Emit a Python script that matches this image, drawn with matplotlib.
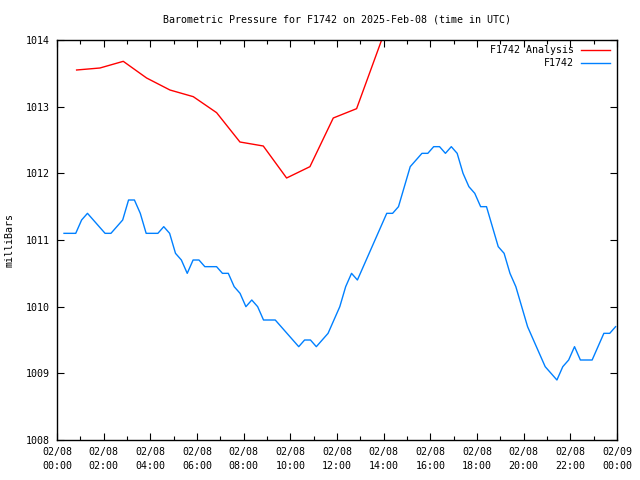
import numpy as np
import matplotlib
matplotlib.use("Agg")
import matplotlib.pyplot as plt
from matplotlib.ticker import MultipleLocator, FixedLocator

# Analysis series (hours since 2025-02-08 00:00 UTC, mbar)
analysis_hours = [0.84, 1.84, 2.84, 3.84, 4.84, 5.84, 6.84, 7.84, 8.84, 9.84,
                  10.84, 11.84, 12.84, 13.84, 14.84]
analysis_mbar = [1013.55, 1013.58, 1013.68, 1013.43, 1013.25, 1013.15, 1012.91,
                 1012.47, 1012.41, 1011.93, 1012.10, 1012.83, 1012.97, 1013.93,
                 1014.90]

# Station observations
obs_start, obs_end = 0.30, 23.94
obs_mbar = [
    1011.1, 1011.1, 1011.1, 1011.3, 1011.4, 1011.3, 1011.2, 1011.1, 1011.1, 1011.2,
    1011.3, 1011.6, 1011.6, 1011.4, 1011.1, 1011.1, 1011.1, 1011.2, 1011.1, 1010.8,
    1010.7, 1010.5, 1010.7, 1010.7, 1010.6, 1010.6, 1010.6, 1010.5, 1010.5, 1010.3,
    1010.2, 1010.0, 1010.1, 1010.0, 1009.8, 1009.8, 1009.8, 1009.7, 1009.6, 1009.5,
    1009.4, 1009.5, 1009.5, 1009.4, 1009.5, 1009.6, 1009.8, 1010.0, 1010.3, 1010.5,
    1010.4, 1010.6, 1010.8, 1011.0, 1011.2, 1011.4, 1011.4, 1011.5, 1011.8, 1012.1,
    1012.2, 1012.3, 1012.3, 1012.4, 1012.4, 1012.3, 1012.4, 1012.3, 1012.0, 1011.8,
    1011.7, 1011.5, 1011.5, 1011.2, 1010.9, 1010.8, 1010.5, 1010.3, 1010.0, 1009.7,
    1009.5, 1009.3, 1009.1, 1009.0, 1008.9, 1009.1, 1009.2, 1009.4, 1009.2, 1009.2,
    1009.2, 1009.4, 1009.6, 1009.6, 1009.7,
]
obs_hours = np.linspace(obs_start, obs_end, len(obs_mbar))

xtick_hours = [0, 2, 4, 6, 8, 10, 12, 14, 16, 18, 20, 22, 24]
xtick_labels = ["02/08\n00:00", "02/08\n02:00", "02/08\n04:00", "02/08\n06:00",
                "02/08\n08:00", "02/08\n10:00", "02/08\n12:00", "02/08\n14:00",
                "02/08\n16:00", "02/08\n18:00", "02/08\n20:00", "02/08\n22:00",
                "02/09\n00:00"]
yticks = [1008, 1009, 1010, 1011, 1012, 1013, 1014]

FONT = "DejaVu Sans Mono"
plt.rcParams["font.family"] = FONT

fig = plt.figure(figsize=(6.4, 4.8), dpi=100)
ax = fig.add_axes([57/640, 40/480, 560/640, 400/480])

red = "#ff0000"
blue = "#0080ff"
ax.plot(analysis_hours, analysis_mbar, color=red, lw=1.0)
ax.plot(obs_hours, obs_mbar, color=blue, lw=1.0)

ax.set_xlim(0, 24)
ax.set_ylim(1008, 1014)
ax.xaxis.set_major_locator(FixedLocator(xtick_hours))
ax.set_xticklabels(xtick_labels)
ax.xaxis.set_minor_locator(MultipleLocator(1))
ax.set_yticks(yticks)
ax.set_yticklabels([str(v) for v in yticks])

ax.tick_params(axis="both", which="both", direction="in", top=True, right=True,
               labelsize=7.2, width=0.8, colors="black")
ax.tick_params(axis="both", which="major", length=5, pad=5)
ax.tick_params(axis="both", which="minor", length=3)
for lab in ax.get_xticklabels():
    lab.set_linespacing(1.45)
for sp in ax.spines.values():
    sp.set_linewidth(1.0)

ax.set_ylabel("milliBars", fontsize=7.2)
ax.yaxis.set_label_coords(-0.075, 0.5)
ax.text(0.5, 1 + 20/400, "Barometric Pressure for F1742 on 2025-Feb-08 (time in UTC)",
        transform=ax.transAxes, ha="center", va="center", fontsize=7.2)

# legend drawn gnuplot-style: right-aligned text followed by line sample
rows = [("F1742 Analysis", red, 0.975), ("F1742", blue, 0.9425)]
for label, col, yy in rows:
    ax.text(0.923, yy, label, transform=ax.transAxes, ha="right", va="center",
            fontsize=7.2)
    ax.plot([0.936, 0.987], [yy, yy], transform=ax.transAxes, color=col, lw=1.0,
            clip_on=False)

fig.savefig("out.png", dpi=100)
